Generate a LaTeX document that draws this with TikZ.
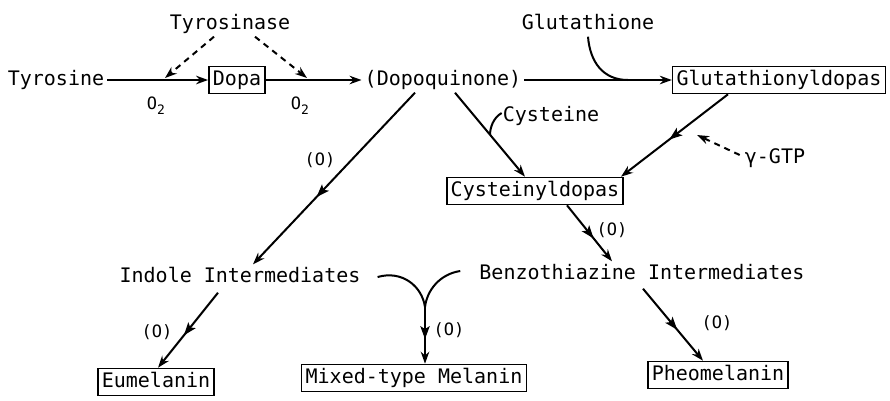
\documentclass[tikz,border=0pt]{standalone}
\usepackage{fontspec}
\newfontfamily\dmono{DejaVu Sans Mono}
\usetikzlibrary{arrows.meta,decorations.markings}
\tikzset{
  every node/.style={font=\dmono\fontsize{20}{24}\selectfont, inner sep=3pt, text height=15pt, text depth=4pt},
  boxed/.style={draw, line width=1.6pt, inner sep=4pt},
  lbl/.style={font=\dmono\fontsize{17}{20}\selectfont, text height=13pt, text depth=3pt},
  conn/.style={line width=2pt},
  arr/.style={conn, -{Stealth[length=12pt,width=8.5pt]}},
  dasharr/.style={arr, dash pattern=on 6pt off 5pt},
  midarr/.style={postaction={decorate}, decoration={markings, mark=at position #1 with {\fill (6.5pt,0pt) -- (-6.5pt,4.8pt) -- (-3.5pt,0pt) -- (-6.5pt,-4.8pt) -- cycle;}}},
  midarr/.default=0.5
}
\begin{document}
\begin{tikzpicture}[x=1pt,y=-1pt]
\useasboundingbox (0,0) rectangle (890,400);

% nodes
\node (tase) at (230,24) {Tyrosinase};
\node (glu) at (588,24) {Glutathione};
\node (tyr) at (56,80) {Tyrosine};
\node[boxed] (dopa) at (237,80) {Dopa};
\node (dq) at (443,80) {(Dopoquinone)};
\node[boxed] (gd) at (779,80) {Glutathionyldopas};
\node (cys) at (551,116) {Cysteine};
\node[boxed] (cd) at (535,191) {Cysteinyldopas};
\node (gtp) at (775,158) {γ-GTP};
\node (ind) at (240,277) {Indole Intermediates};
\node (bz) at (642,274) {Benzothiazine Intermediates};
\node[boxed] (eu) at (156,382) {Eumelanin};
\node[boxed] (mix) at (414,378) {Mixed-type Melanin};
\node[boxed] (pheo) at (718,375) {Pheomelanin};

% labels
\node[lbl] (o2a) at (156,104) {O\raisebox{-5pt}{\fontsize{13}{13}\selectfont 2}};
\node[lbl] (o2b) at (300,104) {O\raisebox{-5pt}{\fontsize{13}{13}\selectfont 2}};
\node[lbl] (ox1) at (320,160) {(O)};
\node[lbl] (ox2) at (612,230) {(O)};
\node[lbl] (ox3) at (157,332) {(O)};
\node[lbl] (ox4) at (449,330) {(O)};
\node[lbl] (ox5) at (717,323) {(O)};

% helper coordinates
\coordinate (tip1) at (165,78);
\coordinate (tip2) at (307,78);
\coordinate (gjoin) at (628,80);
\coordinate (cjoin) at (490,135);
\coordinate (gtip) at (697,135);
\coordinate (mj) at (425,307);

% main row
\draw[arr] (tyr) -- (dopa);
\draw[arr] (dopa) -- (dq);
\draw[arr] (dq) -- (gd);

% tyrosinase dashed
\draw[dasharr] ([xshift=-16pt]tase.south) -- (tip1);
\draw[dasharr] ([xshift=25pt]tase.south) -- (tip2);

% glutathione joining
\draw[conn] (glu.south) .. controls (590,62) and (603,80) .. (gjoin);

% dopoquinone -> indole
\draw[arr,midarr=0.58] ([xshift=-28pt]dq.south) -- ([xshift=13pt]ind.north);

% dopoquinone -> cysteinyldopas
\draw[arr] ([xshift=12pt]dq.south) -- ([xshift=-10pt]cd.north);
\draw[conn] ([xshift=2pt,yshift=3pt]cys.west) .. controls (493,118) and (490,128) .. (cjoin);

% glutathionyldopas -> cysteinyldopas
\draw[arr,midarr] ([xshift=-51pt]gd.south) -- ([xshift=86pt]cd.north);
\draw[dasharr] ([xshift=-2pt,yshift=3pt]gtp.west) -- (gtip);

% cysteinyldopas -> benzothiazine
\draw[arr,midarr] ([xshift=32pt]cd.south) -- ([xshift=-30pt]bz.north);

% indole -> eumelanin
\draw[arr,midarr] ([xshift=-22pt,yshift=-3pt]ind.south) -- ([xshift=2pt]eu.north);

% mixed
\draw[conn] ([xshift=14pt]ind.east) .. controls (402,270) and (422,286) .. (mj);
\draw[conn] ([xshift=-16pt,yshift=3pt]bz.west) .. controls (440,274) and (427,290) .. (mj);
\draw[arr,midarr=0.45] (mj) -- (mj |- mix.north);

% benzothiazine -> pheomelanin
\draw[arr,midarr] ([xshift=1pt,yshift=-2pt]bz.south) -- ([xshift=-15pt]pheo.north);
\end{tikzpicture}
\end{document}
